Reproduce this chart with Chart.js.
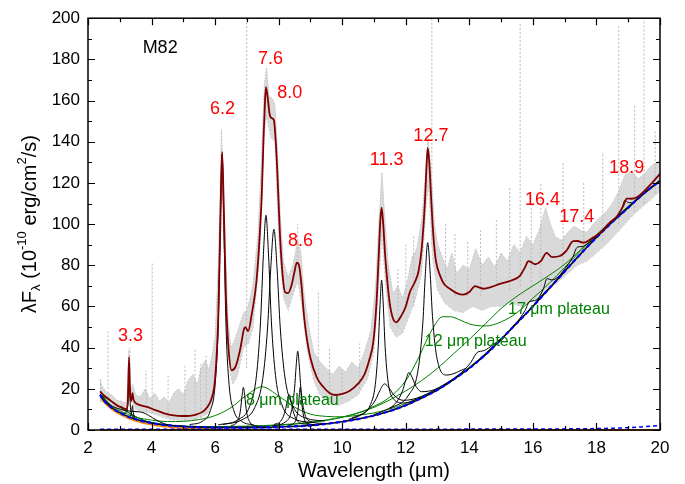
<!DOCTYPE html>
<html>
<head>
<meta charset="utf-8">
<script src="https://cdn.jsdelivr.net/npm/chart.js@4.4.0/dist/chart.umd.min.js"></script>
<style>
  html, body { margin: 0; padding: 0; background: #fff; }
</style>
</head>
<body>
<canvas id="chart" width="685" height="484"></canvas>
<script>
// axis ticks
const waveTicks = [2, 4, 6, 8, 10, 12, 14, 16, 18, 20];
const fluxTicks = [0, 20, 40, 60, 80, 100, 120, 140, 160, 180, 200];

// observed spectrum (grey scatter), lower and upper envelope
const obsLow = [[2.38,14],[2.6,12.5],[2.8,10.5],[3.0,9],[3.2,8],[3.27,20],[3.29,31],[3.31,15],[3.4,13],[3.5,10],[3.7,9],[4.0,8],[4.3,6.5],[4.6,5],[5.0,4.5],[5.3,5],[5.6,6.5],[5.8,8.5],[5.95,14],[6.1,45],[6.22,118],[6.32,62],[6.45,30],[6.55,22],[6.7,26],[6.9,40],[7.05,42],[7.2,50],[7.4,85],[7.55,145],[7.62,152],[7.75,142],[7.88,140],[8.0,92],[8.15,64],[8.3,58],[8.5,68],[8.6,72],[8.75,58],[8.9,38],[9.1,24],[9.3,17],[9.6,13],[9.9,12],[10.2,14],[10.5,17],[10.8,25],[11.0,38],[11.15,70],[11.25,95],[11.35,72],[11.5,50],[11.7,45],[11.9,47],[12.1,55],[12.3,63],[12.5,76],[12.65,110],[12.72,118],[12.85,82],[13.0,68],[13.2,62],[13.5,58],[13.8,57],[14.1,60],[14.4,58],[14.7,60],[15.0,60],[15.3,62],[15.6,60],[15.9,62],[16.2,64],[16.5,68],[16.8,72],[17.1,76],[17.4,80],[17.7,82],[18.0,86],[18.3,90],[18.6,95],[18.9,100],[19.2,105],[19.5,109],[19.8,113],[20,116]];
const obsHigh = [[2.38,24],[2.45,21],[2.6,18],[2.75,17],[2.9,14.5],[3.05,14],[3.2,13],[3.26,20],[3.29,39],[3.33,18],[3.4,22],[3.5,17],[3.65,16],[3.8,20],[3.95,15],[4.1,18],[4.25,14],[4.4,16],[4.55,13],[4.7,18],[4.85,20],[5.0,17],[5.15,24],[5.3,27],[5.45,22],[5.55,30],[5.7,34],[5.8,29],[5.9,36],[6.0,45],[6.1,80],[6.2,146],[6.3,100],[6.4,55],[6.5,40],[6.6,43],[6.75,50],[6.9,57],[7.0,58],[7.1,64],[7.2,72],[7.35,95],[7.45,128],[7.55,168],[7.62,176],[7.7,162],[7.8,161],[7.88,158],[7.95,140],[8.05,105],[8.15,82],[8.3,74],[8.45,80],[8.6,92],[8.7,86],[8.8,66],[8.95,50],[9.1,38],[9.3,33],[9.5,30],[9.7,27],[9.9,31],[10.1,28],[10.3,33],[10.5,30],[10.7,38],[10.9,48],[11.05,70],[11.15,100],[11.25,125],[11.35,100],[11.45,80],[11.6,66],[11.75,70],[11.9,64],[12.05,72],[12.2,84],[12.35,88],[12.5,102],[12.6,120],[12.7,142],[12.8,125],[12.9,100],[13.0,90],[13.15,84],[13.3,78],[13.45,86],[13.6,76],[13.8,80],[14.0,78],[14.2,88],[14.4,80],[14.6,84],[14.8,79],[15.0,86],[15.2,82],[15.4,90],[15.6,86],[15.8,94],[16.0,90],[16.2,97],[16.4,108],[16.55,100],[16.7,94],[16.9,92],[17.1,96],[17.3,99],[17.5,97],[17.7,96],[17.9,100],[18.1,103],[18.3,106],[18.5,110],[18.7,116],[18.9,124],[19.1,126],[19.3,122],[19.5,124],[19.7,128],[19.9,130],[20,131]];
// dotted spikes of the observed spectrum: [wavelength, bottom, top]
const obsSpikes = [[2.4,14,25],[2.63,12,48],[3.32,20,40],[3.83,9,29],[4.02,8,81],[4.52,6,27],[5.05,5,31],[5.37,5,40],[5.55,6,32],[5.72,8,36],[6.99,30,200],[8.6,80,100],[9.25,25,67],[9.6,15,40],[10.0,15,30],[10.55,20,42],[11.45,60,80],[11.75,50,78],[12.0,60,90],[12.25,60,95],[12.82,90,200],[13.25,70,100],[13.55,65,95],[13.95,65,92],[14.35,65,98],[14.85,70,102],[15.27,68,118],[15.6,70,198],[15.95,70,110],[16.25,70,120],[16.95,80,130],[17.6,86,120],[18.2,92,135],[18.7,100,196],[19.2,106,158],[19.5,110,200],[19.85,115,145]];

// total fit
const fitTotal = [[2.38,18.7],[2.5,16.8],[2.64,15.2],[2.8,13.2],[2.95,11.6],[3.04,11.2],[3.1,10.6],[3.2,10.1],[3.25,12.5],[3.29,35.4],[3.32,20],[3.35,14],[3.38,15.5],[3.4,17.9],[3.43,15],[3.48,13.4],[3.6,12.3],[3.86,11.2],[4.1,9.8],[4.4,8.1],[4.7,7.1],[4.95,6.8],[5.2,6.9],[5.4,7.5],[5.6,8.8],[5.75,11],[5.9,15.9],[6.0,25],[6.1,55],[6.17,105],[6.22,135],[6.27,110],[6.34,65],[6.42,40],[6.52,29],[6.65,31],[6.8,40],[6.9,48.5],[6.95,50],[7.04,48],[7.15,56],[7.3,72],[7.41,96],[7.47,115],[7.52,140],[7.57,160],[7.6,166.5],[7.65,162],[7.72,153],[7.78,151.5],[7.85,150.5],[7.9,142],[7.95,128],[8.04,95],[8.12,76],[8.2,67],[8.3,66.5],[8.4,70],[8.5,77],[8.57,81.3],[8.64,80],[8.72,70],[8.8,55],[8.9,43],[9.0,35],[9.2,25.5],[9.4,21],[9.6,18],[9.8,17],[10.0,17.5],[10.24,19.1],[10.5,22.5],[10.7,27],[10.85,34],[10.98,43],[11.08,62],[11.15,85],[11.2,102],[11.24,108],[11.29,100],[11.35,85],[11.42,72],[11.5,61],[11.6,54],[11.7,52.3],[11.87,55.8],[12.0,60],[12.13,67],[12.29,72],[12.4,77],[12.5,88],[12.6,110],[12.65,127],[12.69,137],[12.74,130],[12.8,112],[12.87,94],[12.95,82],[13.08,75],[13.2,71],[13.39,68.6],[13.6,66.5],[13.81,65.7],[14.0,67],[14.18,69.9],[14.3,69.3],[14.44,68.6],[14.7,69.5],[14.96,71],[15.3,72.5],[15.6,75],[15.75,79],[15.86,82],[15.95,81.5],[16.07,80.5],[16.25,82],[16.43,86],[16.6,84],[16.85,84.5],[17.05,87],[17.27,91.7],[17.4,91.8],[17.59,91],[17.85,93],[18.11,95.7],[18.4,100.5],[18.64,103.7],[18.85,109],[18.95,112.4],[19.1,112.3],[19.27,113],[19.5,116],[19.75,120],[20,124.4]];

// continuum
const contTotal = [[2.38,17],[2.5,14.3],[2.75,10.8],[3,8.4],[3.25,6.6],[3.5,5.2],[4,3.4],[4.5,2.3],[5,1.7],[5.5,1.4],[6,1.2],[7,1.2],[8,1.5],[9,2.2],[9.6,3.2],[10,4],[10.5,5.3],[11,7],[11.5,9.2],[12,12],[12.5,15.5],[13,19.5],[13.5,24.5],[14,30],[14.5,36.5],[15,44],[15.5,52],[16,60],[16.5,68.5],[17,77],[17.5,85.5],[18,93.5],[18.5,101],[19,108],[19.5,115],[20,121]];
const contStars = [[2.38,16.3],[2.5,13.6],[2.75,10],[3,7.6],[3.25,5.8],[3.5,4.4],[4,2.6],[4.5,1.5],[5,0.9],[6,0.4],[8,0.15],[12,0.05],[20,0]];
const contBase = [[2.38,0],[20,0]];
const contExtra = [[2.38,0.4],[10,0.4],[16,0.5],[18,0.7],[19,1.1],[19.5,1.6],[20,2.2]];

// plateaus (continuum + plateau)
const plateau8 = [[2.38,17.6],[2.75,11.6],[3,9.3],[3.5,6.3],[4,4.8],[4.5,4.1],[5,4.2],[5.5,5.1],[6,7],[6.5,10.9],[7,17],[7.47,21],[8,16.5],[8.5,11.1],[9,7.7],[9.5,6.6],[10,6.4],[10.5,7.2],[11,8.3],[12,12.9],[13,20.2],[14,30.5],[15,44.4],[16,60.3],[17,77.2],[18,93.7],[19,108.1],[20,121.1]];
const plateau12 = [[2.38,17.2],[4,3.6],[6,1.7],[8,2.5],[9,3.8],[10,6.3],[10.5,8.3],[11,11.5],[11.5,16],[12,24],[12.4,35],[12.7,45],[13.0,53],[13.15,55],[13.4,55],[13.7,53.5],[14,51.5],[14.5,50.5],[15,52.5],[15.5,57],[16,64],[16.5,71],[17,79],[17.5,87],[18,94.7],[19,108.7],[20,121.5]];
const plateau17 = [[2.38,17.2],[4,3.5],[6,1.5],[8,2.3],[9,3.6],[10,6.2],[11,11],[12,19],[12.5,24],[13,30],[13.5,37],[14,44],[14.5,51.5],[15,59],[15.5,65],[16,70],[16.5,75],[17,80.5],[17.5,87.5],[18,94.8],[19,108.3],[20,121.3]];

// single features (continuum + band)
const band33 = [[3.1,8.0],[3.2,8.5],[3.25,12.6],[3.27,20.7],[3.29,32.4],[3.31,20.5],[3.33,12.2],[3.38,7.4],[3.48,5.6]];
const band34 = [[3.3,6.7],[3.35,7.3],[3.375,8.9],[3.4,11.8],[3.425,8.6],[3.45,6.8],[3.55,5.1]];
const band35 = [[2.38,17.4],[2.7,12.2],[2.95,10.4],[3.2,9.4],[3.45,9],[3.7,8.6],[3.9,7.2],[4.15,4.8],[4.5,2.6],[5,1.8],[5.5,1.4]];
const band62 = [[5.2,2.6],[5.6,4.3],[5.85,9.4],[6.0,22.1],[6.1,52.2],[6.17,105.2],[6.22,134],[6.27,105.2],[6.34,52.2],[6.44,22.1],[6.59,9.4],[6.84,4.2],[7.22,2.4]];
const band69 = [[6.49,2],[6.69,3.9],[6.79,8.8],[6.85,16.8],[6.89,20.7],[6.93,16.8],[6.99,8.8],[7.09,3.9],[7.29,2],[7.6,1.5]];
const band76 = [[6.1,2.5],[6.7,4.8],[7.1,12],[7.3,26.3],[7.43,52.8],[7.52,85.3],[7.6,104.3],[7.68,85.5],[7.77,53],[7.9,26.5],[8.1,12.3],[8.5,5.4],[9.1,3.6]];
const band78 = [[6.25,2.7],[6.85,5],[7.25,11],[7.5,25],[7.65,49.5],[7.75,78.3],[7.85,97.5],[7.95,78.4],[8.05,49.6],[8.2,25.3],[8.45,11.5],[8.85,5.8],[9.45,4.4]];
const band83 = [[7.85,2.6],[8.09,4.8],[8.21,9.5],[8.27,14.1],[8.33,17.2],[8.39,14.1],[8.45,9.5],[8.57,4.8],[8.81,2.9],[9.2,2.6]];
const band86 = [[7.8,2.1],[8.2,3.8],[8.4,9.1],[8.5,20.1],[8.55,31],[8.6,38.3],[8.65,31],[8.7,20.1],[8.8,9.1],[9.0,4.1],[9.4,3.2]];
const band87 = [[8.3,2.2],[8.44,2.9],[8.56,5.6],[8.62,11.3],[8.65,17],[8.68,20.8],[8.71,17],[8.74,11.3],[8.8,5.7],[8.92,3.1],[9.2,2.6]];
const band112 = [[10.2,5.2],[10.54,6.9],[10.89,12.4],[11.04,22],[11.13,39.5],[11.19,60.8],[11.24,72.8],[11.29,61.2],[11.35,40.5],[11.44,23.8],[11.59,15.5],[11.94,13.1],[12.5,15.9]];
const band113 = [[10.3,5.8],[10.73,8.8],[11.03,14.1],[11.18,19],[11.33,22.4],[11.48,20.3],[11.63,16.9],[11.93,14.4],[12.33,15.4],[13,19.9]];
const band120 = [[11.0,7.5],[11.3,9.2],[11.7,13.4],[11.9,19.1],[12.0,24.2],[12.1,27.9],[12.2,25.6],[12.3,21.8],[12.5,18.6],[12.9,19.6],[13.5,24.8]];
const band127 = [[11.49,10.3],[12.09,17],[12.39,29.5],[12.54,52.8],[12.61,74.2],[12.69,91],[12.77,75.5],[12.84,55.2],[12.99,34.2],[13.29,26.7],[13.89,29.9]];
const band142 = [[13.45,24.3],[13.85,29.3],[14.05,32.9],[14.25,37.7],[14.45,38.5],[14.65,40.3],[15.05,44.9]];
const band159 = [[15.3,49.2],[15.6,54.4],[15.75,58],[15.9,62.4],[16.05,62.8],[16.2,64.2],[16.5,68.7]];
const band164 = [[16.05,61.3],[16.21,64.8],[16.33,68.6],[16.45,73.6],[16.57,72.9],[16.69,73.2],[16.95,76.7]];
const band174 = [[16.8,74.2],[17.1,80.2],[17.25,83.8],[17.4,88.8],[17.55,89.1],[17.7,90.2],[18.0,94]];
const band189 = [[18.5,101.3],[18.7,104.8],[18.8,107.7],[18.9,111.6],[19.0,110.5],[19.1,110.4],[19.3,112.5]];

// text labels
const featureNames = ['3.3', '6.2', '7.6', '8.0', '8.6', '11.3', '12.7', '16.4', '17.4', '18.9'];
const featureWave = [3.34, 6.23, 7.74, 8.35, 8.69, 11.4, 12.79, 16.3, 17.38, 18.95];
const featureFlux = [45.5, 156, 180, 163.5, 91.6, 131.3, 142.7, 111.5, 103.6, 127.3];
const plateauNames = ['8 \u03bcm plateau', '12 \u03bcm plateau', '17 \u03bcm plateau'];
const plateauWave = [8.43, 14.2, 16.82];
const plateauFlux = [14.1, 43, 58.6];

const FONT = '"Liberation Sans", Arial, sans-serif';

const toXY = pts => pts.map(p => ({ x: p[0], y: p[1] }));
const curve = (pts, color, width, order, extra) => Object.assign({
  data: toXY(pts),
  borderColor: color,
  borderWidth: width,
  pointRadius: 0,
  fill: false,
  cubicInterpolationMode: 'monotone',
  order: order
}, extra || {});

const spikeData = [];
obsSpikes.forEach(s => {
  spikeData.push({ x: s[0], y: s[1] }, { x: s[0], y: s[2] }, { x: s[0], y: null });
});

const bands = [band33, band34, band35, band62, band69, band76, band78, band83, band86, band87,
  band112, band113, band120, band127, band142, band159, band164, band174, band189];

const datasets = [
  { data: toXY(obsLow), borderColor: '#cfcfcf', borderWidth: 1, borderDash: [2, 2],
    pointRadius: 0, fill: false, order: 20, tension: 0 },
  { data: toXY(obsHigh), borderColor: '#c8c8c8', borderWidth: 1, borderDash: [2, 1], pointRadius: 0,
    fill: '-1', backgroundColor: 'rgba(204,204,204,0.75)', order: 19, tension: 0 },
  { data: spikeData, borderColor: '#b8b8b8', borderWidth: 1, borderDash: [2, 2],
    pointRadius: 0, fill: false, spanGaps: false, order: 18, tension: 0 },
  curve(plateau8, '#008000', 1, 10),
  curve(plateau12, '#008000', 1, 10),
  curve(plateau17, '#008000', 1, 10),
];
bands.forEach(b => datasets.push(curve(b, '#000', 1, 8)));
datasets.push(
  curve(contStars, '#ff8000', 1.5, 6),
  curve(contTotal, '#000', 1.5, 5),
  curve(contBase, '#c06000', 2, 4, { clip: 4 }),
  curve(contExtra, '#0000ff', 1.5, 3, { borderDash: [4, 3], clip: 4 }),
  curve(contTotal, '#0000ff', 2.2, 2, { borderDash: [4, 3] }),
  curve(fitTotal, '#800000', 1.8, 0)
);

const decor = {
  id: 'decor',
  beforeDraw(chart) {
    const ctx = chart.ctx;
    ctx.save();
    ctx.fillStyle = '#fff';
    ctx.fillRect(0, 0, chart.width, chart.height);
    ctx.restore();
  },
  afterDatasetsDraw(chart) {
    const ctx = chart.ctx;
    const xs = chart.scales.x, ys = chart.scales.y;
    const a = chart.chartArea;
    ctx.save();
    // feature labels
    ctx.textAlign = 'center';
    ctx.textBaseline = 'middle';
    ctx.fillStyle = '#ff0000';
    ctx.font = '18px ' + FONT;
    featureNames.forEach((t, i) => {
      ctx.fillText(t, xs.getPixelForValue(featureWave[i]), ys.getPixelForValue(featureFlux[i]));
    });
    ctx.fillStyle = '#008000';
    ctx.font = '16px ' + FONT;
    plateauNames.forEach((t, i) => {
      ctx.fillText(t, xs.getPixelForValue(plateauWave[i]), ys.getPixelForValue(plateauFlux[i]));
    });
    ctx.fillStyle = '#000';
    ctx.font = '18px ' + FONT;
    ctx.fillText('M82', xs.getPixelForValue(4.27), ys.getPixelForValue(185.6));

    // frame and inward ticks
    ctx.strokeStyle = '#000';
    ctx.lineWidth = 1.5;
    ctx.strokeRect(a.left, a.top, a.right - a.left, a.bottom - a.top);
    ctx.lineWidth = 1.2;
    ctx.beginPath();
    for (let w = 2; w <= 20; w += 1) {
      const px = Math.round(xs.getPixelForValue(w)) + 0.5;
      const len = waveTicks.includes(w) ? 7 : 4;
      ctx.moveTo(px, a.bottom); ctx.lineTo(px, a.bottom - len);
      ctx.moveTo(px, a.top); ctx.lineTo(px, a.top + len);
    }
    for (let f = 0; f <= 200; f += 10) {
      const py = Math.round(ys.getPixelForValue(f)) + 0.5;
      const len = fluxTicks.includes(f) ? 7 : 4;
      ctx.moveTo(a.left, py); ctx.lineTo(a.left + len, py);
      ctx.moveTo(a.right, py); ctx.lineTo(a.right - len, py);
    }
    ctx.stroke();

    // axis titles
    ctx.fillStyle = '#000';
    ctx.textAlign = 'center';
    ctx.textBaseline = 'middle';
    ctx.font = '20px ' + FONT;
    ctx.fillText('Wavelength (\u03bcm)', (a.left + a.right) / 2, 471);

    ctx.translate(30, (a.top + a.bottom) / 2);
    ctx.rotate(-Math.PI / 2);
    const parts = [['\u03bbF', 20, 0], ['\u03bb', 13, 6], [' (10', 20, 0], ['-10', 13, -8],
      [' erg/cm', 20, 0], ['2', 13, -8], ['/s)', 20, 0]];
    let total = 0;
    parts.forEach(p => { ctx.font = p[1] + 'px ' + FONT; total += ctx.measureText(p[0]).width; });
    let x = -total / 2;
    ctx.textAlign = 'left';
    parts.forEach(p => {
      ctx.font = p[1] + 'px ' + FONT;
      ctx.fillText(p[0], x, p[2]);
      x += ctx.measureText(p[0]).width;
    });
    ctx.restore();
  }
};

new Chart(document.getElementById('chart'), {
  type: 'line',
  data: { datasets: datasets },
  options: {
    responsive: false,
    animation: false,
    devicePixelRatio: 1,
    layout: { padding: { top: 12, right: 25, left: 0, bottom: 0 } },
    plugins: { legend: { display: false }, tooltip: { enabled: false } },
    scales: {
      x: {
        type: 'linear', min: 2, max: 20,
        afterBuildTicks: s => { s.ticks = waveTicks.map(v => ({ value: v })); },
        afterFit: s => { s.height = 54; },
        grid: { display: false, drawTicks: false },
        border: { display: false },
        ticks: { color: '#000', font: { size: 17, family: FONT }, padding: 8, maxRotation: 0 }
      },
      y: {
        type: 'linear', min: 0, max: 200,
        afterBuildTicks: s => { s.ticks = fluxTicks.map(v => ({ value: v })); },
        afterFit: s => { s.width = 88; },
        grid: { display: false, drawTicks: false },
        border: { display: false },
        ticks: { color: '#000', font: { size: 17, family: FONT }, padding: 8 }
      }
    }
  },
  plugins: [decor]
});
</script>
</body>
</html>
